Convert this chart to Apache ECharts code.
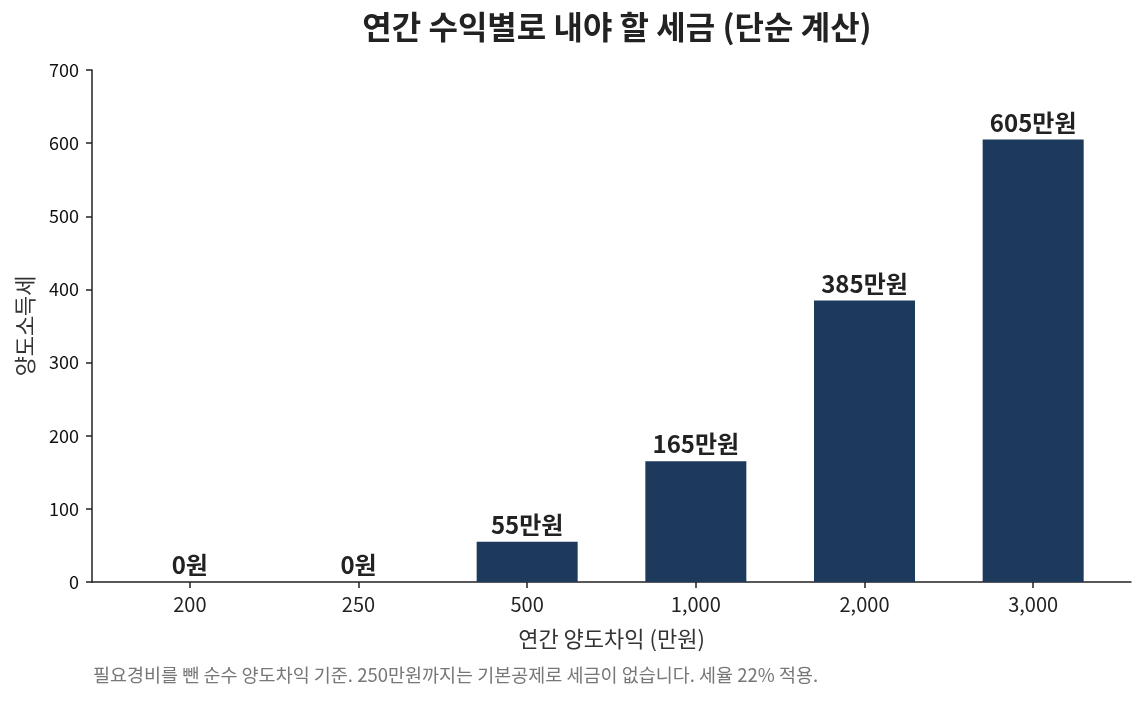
<!DOCTYPE html>
<html>
<head>
<meta charset="utf-8">
<script src="https://cdn.jsdelivr.net/npm/echarts@6/dist/echarts.min.js"></script>
<style>
  html, body { margin: 0; padding: 0; background: #fff; }
  #chart { width: 1145px; height: 702px; }
</style>
</head>
<body>
<div id="chart"></div>
<script>
// 데이터
var categories = ['200', '250', '500', '1,000', '2,000', '3,000'];
var taxValues = [0, 0, 55, 165, 385, 605];
var yTicks = [0, 100, 200, 300, 400, 500, 600, 700];

var FONT = '"Noto Sans CJK KR", "Noto Sans", sans-serif';
var idx = categories.map(function (c, i) { return i; });

var myChart = echarts.init(document.getElementById('chart'));

var option = {
  backgroundColor: '#fff',
  animation: false,
  textStyle: { fontFamily: FONT },
  title: {
    text: '연간 수익별로 내야 할 세금 (단순 계산)',
    left: 612, top: 6,
    textAlign: 'center',
    textStyle: { fontSize: 32, fontWeight: 'bold', color: '#222', fontFamily: FONT }
  },
  graphic: [{
    type: 'text',
    left: 93, top: 666,
    style: {
      text: '필요경비를 뺀 순수 양도차익 기준. 250만원까지는 기본공제로 세금이 없습니다. 세율 22% 적용.',
      fill: '#777', fontSize: 18.5, fontFamily: FONT
    }
  }],
  grid: { left: 92, right: 14, top: 70, bottom: 120, outerBoundsMode: 'none', containLabel: false },
  xAxis: {
    type: 'value',
    min: -0.58, max: 5.58,
    splitLine: { show: false },
    name: '연간 양도차익 (만원)',
    nameLocation: 'middle',
    nameGap: 46,
    nameTextStyle: { fontSize: 22, color: '#333', fontFamily: FONT },
    axisLine: { show: true, onZero: false, lineStyle: { color: '#222', width: 1.5 } },
    axisTick: { show: true, customValues: idx, length: 6, lineStyle: { color: '#222', width: 1.5 } },
    axisLabel: {
      customValues: idx,
      margin: 12,
      fontSize: 20, color: '#222', fontFamily: FONT,
      formatter: function (v) { return categories[Math.round(v)]; }
    }
  },
  yAxis: {
    type: 'value',
    min: 0, max: 700, interval: 100,
    splitLine: { show: false },
    name: '양도소득세',
    nameLocation: 'middle',
    nameGap: 56,
    nameTextStyle: { fontSize: 22, color: '#333', fontFamily: FONT },
    axisLine: { show: true, onZero: false, lineStyle: { color: '#222', width: 1.5 } },
    axisTick: { show: true, length: 6, lineStyle: { color: '#222', width: 1.5 } },
    axisLabel: {
      margin: 13, fontSize: 18, color: '#111', fontFamily: FONT,
      formatter: function (v) { return yTicks.indexOf(v) >= 0 ? String(v) : ''; }
    }
  },
  series: [{
    type: 'bar',
    barWidth: 101,
    data: taxValues.map(function (v, i) { return [i, v]; }),
    itemStyle: { color: '#1d3a5c' },
    label: {
      show: true,
      position: 'top',
      distance: 5,
      fontSize: 24, fontWeight: 'bold', color: '#222', fontFamily: FONT,
      formatter: function (p) {
        return p.value[1] === 0 ? '0원' : p.value[1] + '만원';
      }
    }
  }]
};

myChart.setOption(option);
</script>
</body>
</html>
